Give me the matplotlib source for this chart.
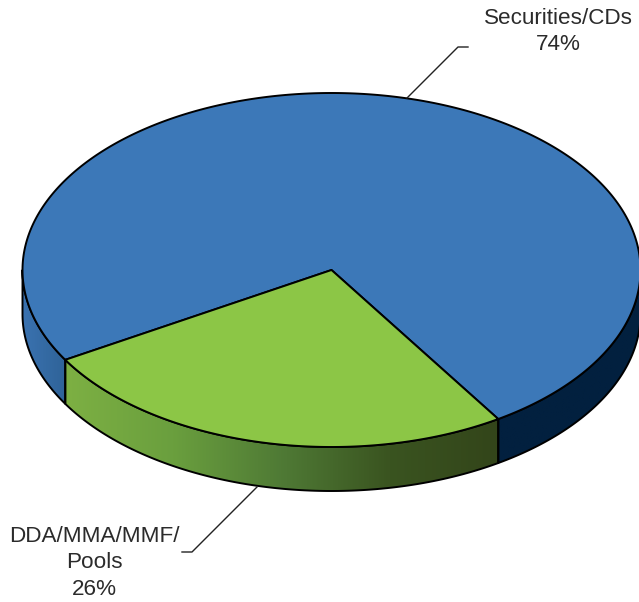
import numpy as np
import matplotlib
matplotlib.use("Agg")
import matplotlib.pyplot as plt
from matplotlib.patches import Polygon
from matplotlib.colors import LinearSegmentedColormap

categories = ["DDA/MMA/MMF/\nPools", "Securities/CDs"]
shares = [25.6, 74.4]
top_colors = ["#8CC646", "#3C78B8"]

CX, CY, RX, RY, DEPTH = 331.5, 270.0, 309.0, 177.0, 44.0
START = -59.5


def arc(t0, t1, dy=0.0, n=300):
    t = np.radians(np.linspace(t0, t1, n))
    return np.column_stack([CX + RX * np.sin(t), CY + dy + RY * np.cos(t)])


fig = plt.figure(figsize=(6.39, 6.02), dpi=100)
ax = fig.add_axes([0, 0, 1, 1])
ax.set_axis_off()

sweep = [s / sum(shares) * 360 for s in shares]
g0, g1 = START, START + sweep[0]
b0, b1 = g1, g0 + 360


def side(t0, t1, stops, x0, x1):
    pts = np.vstack([arc(t0, t1), arc(t1, t0, DEPTH)])
    cmap = LinearSegmentedColormap.from_list("g", stops)
    grad = np.linspace(0, 1, 256)[None, :]
    im = ax.imshow(grad, cmap=cmap, extent=(x0, x1, CY + RY + DEPTH + 5, CY - 5),
                   aspect="auto", zorder=1, interpolation="bilinear")
    poly = Polygon(pts, closed=True, facecolor="none", edgecolor="black", lw=1.4, zorder=2,
                   joinstyle="round")
    ax.add_patch(poly)
    im.set_clip_path(poly)


side(-90, g0, ["#3A72B0", "#2F6398"], CX - RX, arc(g0, g0, n=1)[0, 0])
side(g0, g1, ["#7DB043", "#6A9F3E", "#4F7A35", "#3A5420", "#33451A"],
     arc(g0, g0, n=1)[0, 0], arc(g1, g1, n=1)[0, 0])
side(g1, 90, ["#02203F", "#02203F"], arc(g1, g1, n=1)[0, 0], CX + RX)

# top faces
green = np.vstack([[CX, CY], arc(g0, g1)])
blue = np.vstack([[CX, CY], arc(b0, b1, n=900)])
ax.add_patch(Polygon(blue, closed=True, facecolor=top_colors[1], edgecolor="black",
                     lw=1.4, zorder=3, joinstyle="round"))
ax.add_patch(Polygon(green, closed=True, facecolor=top_colors[0], edgecolor="black",
                     lw=1.4, zorder=4, joinstyle="round"))

# leader lines
ax.plot([407, 458, 468], [98, 47, 47], color="#222222", lw=1.0, zorder=5)
ax.plot([257, 192, 182], [487, 552, 552], color="#222222", lw=1.0, zorder=5)

font = dict(family="Liberation Sans", fontsize=16.2, color="#2B2B2B", ha="center",
            va="center", linespacing=1.33)
ax.text(558.5, 31.5, f"{categories[1]}\n{round(shares[1])}%", **font)
ax.text(94.5, 563, f"{categories[0]}\n{round(shares[0])}%", **font)

ax.set_xlim(0, 639)
ax.set_ylim(602, 0)
fig.savefig("out.png", dpi=100)
